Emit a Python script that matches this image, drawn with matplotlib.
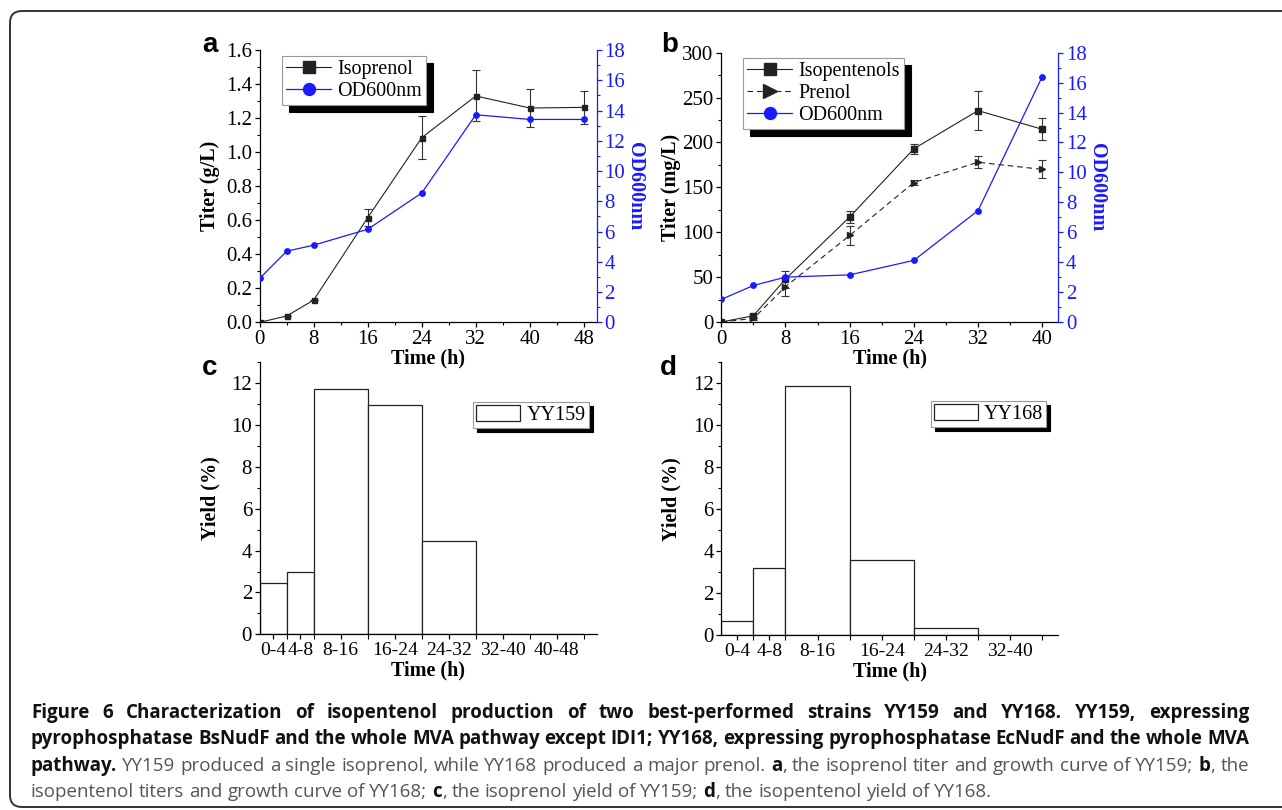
import numpy as np
import matplotlib
matplotlib.use("Agg")
import matplotlib.pyplot as plt
from matplotlib.patches import Shadow, FancyBboxPatch
from matplotlib.ticker import MultipleLocator, FixedLocator
from matplotlib.transforms import IdentityTransform

# panel a: YY159
time_a = [0, 4, 8, 16, 24, 32, 40, 48]
isoprenol = [0.0, 0.037, 0.131, 0.615, 1.085, 1.33, 1.259, 1.263]
isoprenol_err = [0, 0, 0, 0.05, 0.125, 0.15, 0.113, 0.097]
od_a = [2.9, 4.7, 5.1, 6.15, 8.55, 13.72, 13.41, 13.41]

# panel b: YY168
time_b = [0, 4, 8, 16, 24, 32, 40]
isopentenols = [0, 7, 47.8, 117, 193, 235.5, 214.7]
isopentenols_err = [0, 2, 9.5, 7, 5.5, 22, 12.5]
prenol = [0, 4, 39.3, 96.4, 155.4, 178, 170]
prenol_err = [0, 1.5, 10, 10.7, 2.5, 6.5, 10]
od_b = [1.51, 2.44, 3.0, 3.15, 4.12, 7.45, 16.4]

# panel c / d: yields per time window
bins_c = ['0-4', '4-8', '8-16', '16-24', '24-32', '32-40', '40-48']
edges_c = [0, 4, 8, 16, 24, 32, 40, 48]
yield_c = [2.43, 3.0, 11.74, 10.96, 4.44, 0, 0]

bins_d = ['0-4', '4-8', '8-16', '16-24', '24-32', '32-40']
edges_d = [0, 4, 8, 16, 24, 32, 40]
yield_d = [0.67, 3.18, 11.86, 3.57, 0.35, 0]

caption = [
    [("Figure 6 Characterization of isopentenol production of two best-performed strains YY159 and YY168. YY159, expressing", True)],
    [("pyrophosphatase BsNudF and the whole MVA pathway except IDI1; YY168, expressing pyrophosphatase EcNudF and the whole MVA", True)],
    [("pathway.", True), (" YY159 produced a single isoprenol, while YY168 produced a major prenol. ", False),
     ("a", True), (", the isoprenol titer and growth curve of YY159; ", False), ("b", True), (", the", False)],
    [("isopentenol titers and growth curve of YY168; ", False), ("c", True), (", the isoprenol yield of YY159; ", False),
     ("d", True), (", the isopentenol yield of YY168.", False)],
]

W, H = 1282, 810
BLUE = '#1a1aff'
TICK_FS = 15
LABEL_FS = 14.5
LEG_FS = 14.5

plt.rcParams['font.family'] = ['Liberation Serif', 'DejaVu Serif']
plt.rcParams['axes.linewidth'] = 0.9
plt.rcParams['xtick.direction'] = 'out'
plt.rcParams['ytick.direction'] = 'out'
plt.rcParams['xtick.major.size'] = 3.5
plt.rcParams['ytick.major.size'] = 3.5
plt.rcParams['xtick.minor.size'] = 2.2
plt.rcParams['ytick.minor.size'] = 2.2
plt.rcParams['xtick.major.pad'] = 2.0
plt.rcParams['ytick.major.pad'] = 2.0


def rect(l, t, r, b):
    return [l / W, 1 - b / H, (r - l) / W, (b - t) / H]


def style_left(ax):
    ax.spines['top'].set_visible(False)
    ax.spines['right'].set_visible(False)
    ax.tick_params(labelsize=TICK_FS, width=0.9)
    ax.tick_params(which='minor', width=0.8)


def style_right(ax2):
    for s in ['top', 'left', 'bottom']:
        ax2.spines[s].set_visible(False)
    ax2.spines['right'].set_color(BLUE)
    ax2.tick_params(axis='y', colors=BLUE, labelsize=TICK_FS, width=0.9)
    ax2.tick_params(axis='y', which='minor', colors=BLUE, width=0.8)


def add_shadow(ax, leg, off):
    sh = Shadow(leg.legendPatch, off, -off, color='black', alpha=1, zorder=4.9)
    sh.set_clip_on(False)
    ax.add_artist(sh)


def tokens(line):
    # split the styled runs into words, remembering if a space came before
    out = []
    pending = False
    for s, bold in line:
        for i, p in enumerate(s.split(' ')):
            if i > 0:
                pending = True
            if p == '':
                continue
            out.append((p, bold, pending and bool(out)))
            pending = False
    return out


def main():
    fig = plt.figure(figsize=(W / 100, H / 100), dpi=100)

    # ---- a ----
    ax = fig.add_axes(rect(259.7, 50, 596.7, 322.3))
    ax2 = ax.twinx()
    ax.errorbar(time_a, isoprenol, yerr=isoprenol_err, fmt='none', ecolor='#333', elinewidth=0.8, capsize=3, capthick=0.8)
    l1, = ax.plot(time_a, isoprenol, '-s', color='#222', lw=0.8, ms=3.6, label='Isoprenol')
    l2, = ax2.plot(time_a, od_a, '-o', color=BLUE, lw=0.9, ms=3.9, label='OD600nm')
    ax.set_xlim(0, 49.9)
    ax.set_ylim(0, 1.6)
    ax2.set_ylim(0, 18)
    ax.xaxis.set_major_locator(MultipleLocator(8))
    ax.xaxis.set_minor_locator(MultipleLocator(4))
    ax.yaxis.set_major_locator(MultipleLocator(0.2))
    ax.yaxis.set_minor_locator(MultipleLocator(0.1))
    ax.yaxis.set_major_formatter(plt.FormatStrFormatter('%.1f'))
    ax2.yaxis.set_major_locator(MultipleLocator(2))
    ax2.yaxis.set_minor_locator(MultipleLocator(1))
    style_left(ax)
    style_right(ax2)
    ax.set_xlabel('Time (h)', fontsize=LABEL_FS, fontweight='bold', labelpad=0)
    ax.set_ylabel('Titer (g/L)', fontsize=LABEL_FS, fontweight='bold', labelpad=4)
    ax2.set_ylabel('OD600nm', fontsize=LABEL_FS, fontweight='bold', color=BLUE, rotation=270, va='bottom', labelpad=0)
    leg_a = ax2.legend([l1, l2], ['Isoprenol', 'OD600nm'], loc='upper left', bbox_to_anchor=(0.066, 0.978),
                       borderaxespad=0, fontsize=LEG_FS, markerscale=2.2, handlelength=2.25, handletextpad=0.3,
                       labelspacing=0.15, borderpad=0.2, fancybox=False, framealpha=1, edgecolor='#999')
    leg_a.get_frame().set_linewidth(0.8)
    add_shadow(ax2, leg_a, 5)

    # ---- b ----
    bx = fig.add_axes(rect(721.3, 52.7, 1058.3, 322))
    bx2 = bx.twinx()
    bx.errorbar(time_b, isopentenols, yerr=isopentenols_err, fmt='none', ecolor='#333', elinewidth=0.8, capsize=3, capthick=0.8)
    bx.errorbar(time_b, prenol, yerr=prenol_err, fmt='none', ecolor='#333', elinewidth=0.8, capsize=3, capthick=0.8)
    m1, = bx.plot(time_b, isopentenols, '-s', color='#222', lw=0.8, ms=3.7, label='Isopentenols')
    m2, = bx.plot(time_b, prenol, '>', ls=(0, (5, 3.5)), color='#222', lw=0.8, ms=4.3, label='Prenol')
    m3, = bx2.plot(time_b, od_b, '-o', color=BLUE, lw=0.9, ms=3.9, label='OD600nm')
    bx.set_xlim(0, 42)
    bx.set_ylim(0, 300)
    bx2.set_ylim(0, 18)
    bx.xaxis.set_major_locator(MultipleLocator(8))
    bx.xaxis.set_minor_locator(MultipleLocator(4))
    bx.yaxis.set_major_locator(MultipleLocator(50))
    bx.yaxis.set_minor_locator(MultipleLocator(25))
    bx2.yaxis.set_major_locator(MultipleLocator(2))
    bx2.yaxis.set_minor_locator(MultipleLocator(1))
    style_left(bx)
    style_right(bx2)
    bx.set_xlabel('Time (h)', fontsize=LABEL_FS, fontweight='bold', labelpad=0)
    bx.set_ylabel('Titer (mg/L)', fontsize=LABEL_FS, fontweight='bold', labelpad=1)
    bx2.set_ylabel('OD600nm', fontsize=LABEL_FS, fontweight='bold', color=BLUE, rotation=270, va='bottom', labelpad=0)
    leg_b = bx2.legend([m1, m2, m3], ['Isopentenols', 'Prenol', 'OD600nm'], loc='upper left',
                       bbox_to_anchor=(0.064, 0.98), borderaxespad=0, fontsize=LEG_FS, markerscale=2.2,
                       handlelength=2.25, handletextpad=0.3, labelspacing=0.15, borderpad=0.2,
                       fancybox=False, framealpha=1, edgecolor='#999')
    leg_b.get_frame().set_linewidth(0.8)
    add_shadow(bx2, leg_b, 5)

    # ---- c / d ----
    panels = [
        (rect(259.7, 362.3, 596.7, 634.3), edges_c, yield_c, bins_c, 49.9, 'YY159', (0.633, 0.854)),
        (rect(721.3, 362.3, 1058.3, 635), edges_d, yield_d, bins_d, 42, 'YY168', (0.621, 0.858)),
    ]
    for pos, edges, ylds, names, xmax, strain, anchor in panels:
        cx = fig.add_axes(pos)
        cx.patch.set_visible(False)
        edges = np.array(edges, dtype=float)
        cx.bar(edges[:-1], ylds, width=np.diff(edges), align='edge', facecolor='white',
               edgecolor='#222', linewidth=0.9, label=strain)
        mids = (edges[:-1] + edges[1:]) / 2
        cx.set_xlim(0, xmax)
        cx.set_ylim(0, 13)
        cx.xaxis.set_major_locator(FixedLocator(mids))
        cx.xaxis.set_minor_locator(FixedLocator(edges[1:]))
        cx.set_xticklabels(names)
        cx.yaxis.set_major_locator(MultipleLocator(2))
        cx.yaxis.set_minor_locator(MultipleLocator(1))
        style_left(cx)
        cx.tick_params(axis='x', labelsize=14)
        cx.tick_params(axis='x', which='minor', length=3.5)
        cx.set_xlabel('Time (h)', fontsize=LABEL_FS, fontweight='bold', labelpad=1)
        cx.set_ylabel('Yield (%)', fontsize=LABEL_FS, fontweight='bold', labelpad=8)
        leg = cx.legend(loc='upper left', bbox_to_anchor=anchor, borderaxespad=0, fontsize=LEG_FS,
                        handlelength=2.2, handleheight=0.85, handletextpad=0.3, borderpad=0.15,
                        fancybox=False, framealpha=1, edgecolor='#999')
        leg.get_frame().set_linewidth(0.8)
        add_shadow(cx, leg, 3)

    # panel letters
    for ch, x, y in [('a', 202, 52), ('b', 661, 52), ('c', 202, 375), ('d', 660, 375)]:
        fig.text(x / W, 1 - y / H, ch, fontsize=20, fontweight='bold', family=['Liberation Sans', 'DejaVu Sans'],
                 va='baseline', ha='left')

    # border around the figure
    frame = FancyBboxPatch((10, 3), 1300, 796, boxstyle='round,pad=0,rounding_size=12',
                           transform=IdentityTransform(), facecolor='none', edgecolor='#333', linewidth=1.4)
    fig.add_artist(frame)

    # caption, word by word; first three lines are justified
    fam = ['Open Sans', 'DejaVu Sans']
    fig.canvas.draw()
    rend = fig.canvas.get_renderer()

    def width(s, bold, size):
        t = fig.text(0, 0, s, fontsize=size, fontweight='bold' if bold else 'normal', family=fam)
        w = t.get_window_extent(rend).width
        t.remove()
        return w

    size = 12 * 1219 / width(caption[1][0][0], True, 12)
    space = {b: width('a a', b, size) - width('aa', b, size) for b in (True, False)}
    x_left, x_right = 31, 1249
    for k, (line, base) in enumerate(zip(caption, [718, 744, 771, 797])):
        toks = tokens(line)
        widths = [width(t, b, size) for t, b, _ in toks]
        natural = sum(widths) + sum(space[b] for _, b, sp in toks if sp)
        gaps = sum(1 for *_, sp in toks if sp)
        extra = (x_right - x_left - natural) / gaps if (k < 3 and gaps) else 0
        x = x_left
        for (t, b, sp), w in zip(toks, widths):
            if sp:
                x += space[b] + extra
            fig.text(x / W, 1 - base / H, t, fontsize=size, fontweight='bold' if b else 'normal',
                     family=fam, color='#111' if b else '#555', va='baseline', ha='left')
            x += w

    fig.canvas.draw()
    fig.savefig('out.png', dpi=100)


if __name__ == '__main__':
    main()
